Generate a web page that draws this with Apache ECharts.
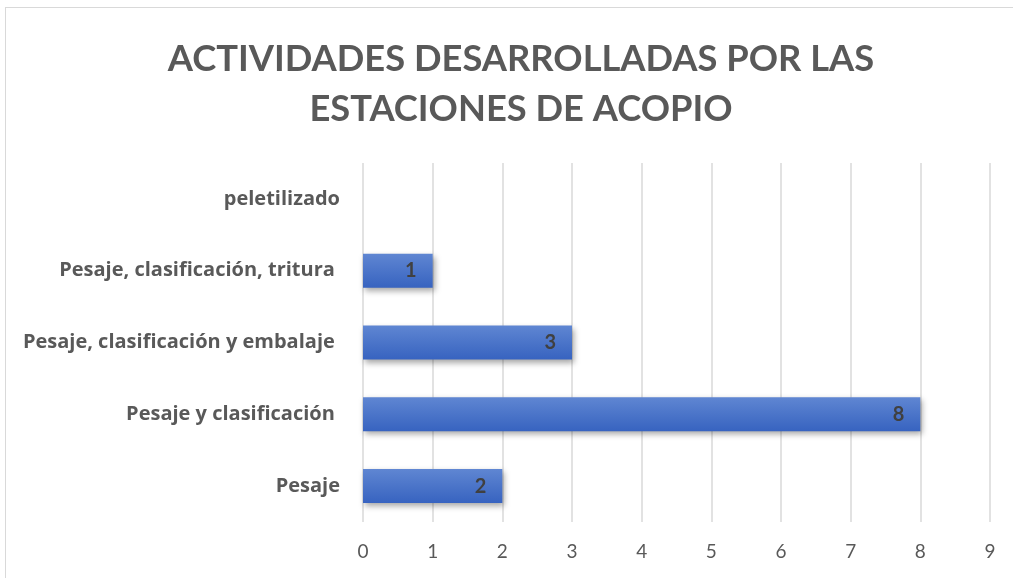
<!DOCTYPE html>
<html>
<head>
<meta charset="utf-8">
<script src="https://cdn.jsdelivr.net/npm/echarts@6/dist/echarts.min.js"></script>
<style>
  html, body { margin: 0; padding: 0; background: #fff; }
  #chart { width: 1013px; height: 578px; }
  .frame { position: absolute; left: 5px; top: 7px; width: 1020px; height: 580px; border: 1.5px solid #d9d9d9; pointer-events: none; }
</style>
</head>
<body>
<div id="chart"></div>
<div class="frame"></div>
<script>
// categories listed bottom to top
const categories = [
  "Pesaje",
  "Pesaje y clasificación ",
  "Pesaje, clasificación y embalaje ",
  "Pesaje, clasificación, tritura ",
  "peletilizado"
];
const values = [2, 8, 3, 1, 0];
const xTicks = [0, 1, 2, 3, 4, 5, 6, 7, 8, 9];

const chart = echarts.init(document.getElementById("chart"));
chart.setOption({
  animation: false,
  title: {
    text: "ACTIVIDADES DESARROLLADAS POR LAS\nESTACIONES DE ACOPIO",
    left: 516,
    textAlign: "center",
    top: 29,
    textStyle: {
      fontFamily: "Lato",
      fontSize: 36.3,
      fontWeight: "bold",
      color: "#595959",
      lineHeight: 50
    }
  },
  grid: {
    left: 363,
    right: 23,
    top: 163,
    bottom: 56
  },
  xAxis: {
    type: "value",
    min: xTicks[0],
    max: xTicks[xTicks.length - 1],
    interval: 1,
    axisLine: { show: false },
    axisTick: { show: false },
    splitLine: { lineStyle: { color: "#d9d9d9", width: 1.5 } },
    axisLabel: {
      margin: 20,
      fontFamily: "Lato",
      fontSize: 19,
      color: "#595959"
    }
  },
  yAxis: {
    type: "category",
    data: categories,
    axisLine: { show: false },
    axisTick: { show: false },
    axisLabel: {
      margin: 23,
      fontFamily: "Open Sans",
      fontSize: 20,
      fontWeight: "bold",
      color: "#595959"
    }
  },
  series: [{
    type: "bar",
    data: values,
    barWidth: 34,
    itemStyle: {
      color: new echarts.graphic.LinearGradient(0, 0, 0, 1, [
        { offset: 0, color: "#5f86d2" },
        { offset: 1, color: "#3763c0" }
      ]),
      shadowColor: "rgba(0,0,0,0.35)",
      shadowBlur: 6,
      shadowOffsetX: 2,
      shadowOffsetY: 3
    },
    label: {
      show: true,
      position: "insideRight",
      distance: 16,
      fontFamily: "Lato",
      fontSize: 20,
      fontWeight: "bold",
      color: "#404040",
      formatter: p => (p.value > 0 ? p.value : "")
    }
  }]
});
</script>
</body>
</html>
